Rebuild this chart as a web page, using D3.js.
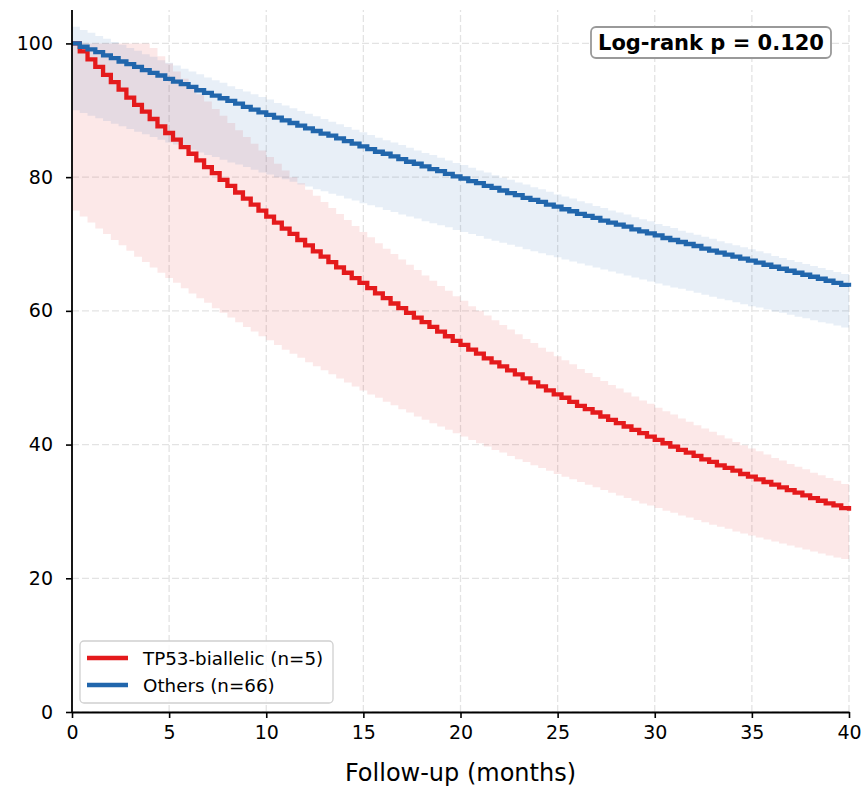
<!DOCTYPE html>
<meta charset="utf-8">
<script src="https://d3js.org/d3.v7.min.js"></script>
<style>
  body { margin: 0; background: #fff; }
  text { font-family: "DejaVu Sans", sans-serif; }
</style>
<div id="chart"></div>
<script>

// follow-up grid, one step every 0.4 months (0 .. 40)
var stepMonths = 0.4;

// TP53-biallelic survival (%)
var redSurv = [
  100.0, 98.8, 97.6, 96.5, 95.3, 94.2, 93.1, 91.9, 90.8, 89.8,
  88.7, 87.6, 86.6, 85.6, 84.5, 83.5, 82.5, 81.5, 80.6, 79.6,
  78.7, 77.7, 76.8, 75.9, 75.0, 74.1, 73.2, 72.3, 71.5, 70.6,
  69.8, 68.9, 68.1, 67.3, 66.5, 65.7, 64.9, 64.2, 63.4, 62.6,
  61.9, 61.1, 60.4, 59.7, 59.0, 58.3, 57.6, 56.9, 56.2, 55.5,
  54.9, 54.2, 53.6, 52.9, 52.3, 51.7, 51.1, 50.5, 49.9, 49.3,
  48.7, 48.1, 47.5, 47.0, 46.4, 45.8, 45.3, 44.8, 44.2, 43.7,
  43.2, 42.7, 42.2, 41.7, 41.2, 40.7, 40.2, 39.7, 39.2, 38.8,
  38.3, 37.8, 37.4, 36.9, 36.5, 36.1, 35.6, 35.2, 34.8, 34.4,
  34.0, 33.6, 33.2, 32.8, 32.4, 32.0, 31.6, 31.2, 30.9, 30.5,
  30.1
];
var redLow = [
  75.0, 74.1, 73.2, 72.3, 71.5, 70.6, 69.8, 69.0, 68.1, 67.3,
  66.5, 65.7, 64.9, 64.2, 63.4, 62.6, 61.9, 61.2, 60.4, 59.7,
  59.0, 58.3, 57.6, 56.9, 56.2, 55.6, 54.9, 54.2, 53.6, 53.0,
  52.3, 51.7, 51.1, 50.5, 49.9, 49.3, 48.7, 48.1, 47.5, 47.0,
  46.4, 45.9, 45.3, 44.8, 44.2, 43.7, 43.2, 42.7, 42.2, 41.7,
  41.2, 40.7, 40.2, 39.7, 39.2, 38.8, 38.3, 37.8, 37.4, 36.9,
  36.5, 36.1, 35.6, 35.2, 34.8, 34.4, 34.0, 33.6, 33.2, 32.8,
  32.4, 32.0, 31.6, 31.2, 30.9, 30.5, 30.1, 29.8, 29.4, 29.1,
  28.7, 28.4, 28.0, 27.7, 27.4, 27.0, 26.7, 26.4, 26.1, 25.8,
  25.5, 25.2, 24.9, 24.6, 24.3, 24.0, 23.7, 23.4, 23.1, 22.9,
  22.6
];
var redHigh = [
  100.0, 100.0, 100.0, 100.0, 100.0, 100.0, 100.0, 100.0, 100.0, 100.0,
  99.3, 98.1, 97.0, 95.8, 94.7, 93.6, 92.4, 91.3, 90.2, 89.2,
  88.1, 87.0, 86.0, 85.0, 84.0, 83.0, 82.0, 81.0, 80.0, 79.1,
  78.1, 77.2, 76.3, 75.4, 74.5, 73.6, 72.7, 71.8, 71.0, 70.1,
  69.3, 68.5, 67.7, 66.9, 66.1, 65.3, 64.5, 63.7, 63.0, 62.2,
  61.5, 60.7, 60.0, 59.3, 58.6, 57.9, 57.2, 56.5, 55.8, 55.2,
  54.5, 53.9, 53.2, 52.6, 52.0, 51.3, 50.7, 50.1, 49.5, 48.9,
  48.4, 47.8, 47.2, 46.6, 46.1, 45.5, 45.0, 44.5, 43.9, 43.4,
  42.9, 42.4, 41.9, 41.4, 40.9, 40.4, 39.9, 39.4, 39.0, 38.5,
  38.0, 37.6, 37.1, 36.7, 36.3, 35.8, 35.4, 35.0, 34.6, 34.1,
  33.7
];

// Others survival (%)
var blueSurv = [
  100.0, 99.5, 99.1, 98.7, 98.2, 97.8, 97.3, 96.9, 96.5, 96.0,
  95.6, 95.2, 94.7, 94.3, 93.9, 93.5, 93.0, 92.6, 92.2, 91.8,
  91.4, 91.0, 90.5, 90.1, 89.7, 89.3, 88.9, 88.5, 88.1, 87.7,
  87.3, 86.9, 86.5, 86.2, 85.8, 85.4, 85.0, 84.6, 84.2, 83.8,
  83.5, 83.1, 82.7, 82.3, 82.0, 81.6, 81.2, 80.9, 80.5, 80.1,
  79.8, 79.4, 79.1, 78.7, 78.4, 78.0, 77.6, 77.3, 76.9, 76.6,
  76.3, 75.9, 75.6, 75.2, 74.9, 74.5, 74.2, 73.9, 73.5, 73.2,
  72.9, 72.6, 72.2, 71.9, 71.6, 71.3, 70.9, 70.6, 70.3, 70.0,
  69.7, 69.3, 69.0, 68.7, 68.4, 68.1, 67.8, 67.5, 67.2, 66.9,
  66.6, 66.3, 66.0, 65.7, 65.4, 65.1, 64.8, 64.5, 64.2, 63.9,
  63.6
];
var blueLow = [
  90.0, 89.6, 89.2, 88.8, 88.4, 88.0, 87.6, 87.2, 86.8, 86.4,
  86.0, 85.6, 85.2, 84.9, 84.5, 84.1, 83.7, 83.3, 83.0, 82.6,
  82.2, 81.9, 81.5, 81.1, 80.7, 80.4, 80.0, 79.7, 79.3, 78.9,
  78.6, 78.2, 77.9, 77.5, 77.2, 76.8, 76.5, 76.1, 75.8, 75.5,
  75.1, 74.8, 74.4, 74.1, 73.8, 73.4, 73.1, 72.8, 72.5, 72.1,
  71.8, 71.5, 71.2, 70.8, 70.5, 70.2, 69.9, 69.6, 69.2, 68.9,
  68.6, 68.3, 68.0, 67.7, 67.4, 67.1, 66.8, 66.5, 66.2, 65.9,
  65.6, 65.3, 65.0, 64.7, 64.4, 64.1, 63.8, 63.5, 63.3, 63.0,
  62.7, 62.4, 62.1, 61.8, 61.6, 61.3, 61.0, 60.7, 60.5, 60.2,
  59.9, 59.7, 59.4, 59.1, 58.9, 58.6, 58.3, 58.1, 57.8, 57.5,
  57.3
];
var blueHigh = [
  102.5, 102.0, 101.6, 101.1, 100.7, 100.2, 99.8, 99.3, 98.9, 98.4,
  98.0, 97.5, 97.1, 96.7, 96.2, 95.8, 95.4, 94.9, 94.5, 94.1,
  93.6, 93.2, 92.8, 92.4, 92.0, 91.6, 91.1, 90.7, 90.3, 89.9,
  89.5, 89.1, 88.7, 88.3, 87.9, 87.5, 87.1, 86.7, 86.3, 85.9,
  85.5, 85.2, 84.8, 84.4, 84.0, 83.6, 83.3, 82.9, 82.5, 82.1,
  81.8, 81.4, 81.0, 80.7, 80.3, 79.9, 79.6, 79.2, 78.9, 78.5,
  78.2, 77.8, 77.4, 77.1, 76.8, 76.4, 76.1, 75.7, 75.4, 75.0,
  74.7, 74.4, 74.0, 73.7, 73.4, 73.0, 72.7, 72.4, 72.0, 71.7,
  71.4, 71.1, 70.8, 70.4, 70.1, 69.8, 69.5, 69.2, 68.9, 68.6,
  68.2, 67.9, 67.6, 67.3, 67.0, 66.7, 66.4, 66.1, 65.8, 65.5,
  65.2
];

var xTicks = [0, 5, 10, 15, 20, 25, 30, 35, 40];
var yTicks = [0, 20, 40, 60, 80, 100];
var seriesNames = ["TP53-biallelic (n=5)", "Others (n=66)"];
var pText = "Log-rank p = 0.120";

var W = 863, H = 786;
var margin = {top: 10, right: 14, bottom: 74, left: 72};

var svg = d3.select("#chart").append("svg")
  .attr("width", W).attr("height", H);

var x = d3.scaleLinear().domain([0, 40]).range([margin.left, W - margin.right]);
var y = d3.scaleLinear().domain([0, 105]).range([H - margin.bottom, margin.top]);

// grid
var grid = svg.append("g");
grid.selectAll(".gx").data(xTicks).enter().append("line")
  .attr("x1", d => x(d)).attr("x2", d => x(d))
  .attr("y1", y(0)).attr("y2", y(105))
  .attr("stroke", "#e3e3e3").attr("stroke-width", 1.3).attr("stroke-dasharray", "7,3");
grid.selectAll(".gy").data(yTicks).enter().append("line")
  .attr("x1", x(0)).attr("x2", x(40))
  .attr("y1", d => y(d)).attr("y2", d => y(d))
  .attr("stroke", "#e3e3e3").attr("stroke-width", 1.3).attr("stroke-dasharray", "7,3");

function rows(surv, lo, hi) {
  return surv.map(function(v, i) { return {t: i * stepMonths, s: v, lo: lo[i], hi: hi[i]}; });
}
var groups = [
  {data: rows(redSurv, redLow, redHigh), color: "#e41a1c"},
  {data: rows(blueSurv, blueLow, blueHigh), color: "#2166ac"}
];

var area = d3.area().curve(d3.curveStepAfter)
  .x(d => x(d.t)).y0(d => y(d.lo)).y1(d => y(d.hi));
var line = d3.line().curve(d3.curveStepAfter)
  .x(d => x(d.t)).y(d => y(d.s));

groups.forEach(function(g) {
  svg.append("path").datum(g.data)
    .attr("d", area)
    .attr("fill", g.color).attr("fill-opacity", 0.1);
});
groups.forEach(function(g) {
  svg.append("path").datum(g.data)
    .attr("d", line)
    .attr("fill", "none")
    .attr("stroke", g.color).attr("stroke-width", 4.3);
});

// axes
var xAxis = svg.append("g")
  .attr("transform", "translate(0," + y(0) + ")")
  .call(d3.axisBottom(x).tickValues(xTicks).tickSize(6).tickSizeOuter(0).tickPadding(8));
var yAxis = svg.append("g")
  .attr("transform", "translate(" + x(0) + ",0)")
  .call(d3.axisLeft(y).tickValues(yTicks).tickSize(6).tickSizeOuter(0).tickPadding(13));
yAxis.select(".domain").attr("d", "M0," + y(0) + "V" + y(105));
[xAxis, yAxis].forEach(function(a) {
  a.select(".domain").attr("stroke", "#000").attr("stroke-width", 1.8);
  a.selectAll(".tick line").attr("stroke", "#000").attr("stroke-width", 1.6);
  a.selectAll(".tick text").style("font-size", "19px").attr("fill", "#000")
    .style("font-family", "DejaVu Sans");
});

svg.append("text")
  .attr("x", (x(0) + x(40)) / 2).attr("y", 781)
  .attr("text-anchor", "middle")
  .style("font-size", "24px")
  .text("Follow-up (months)");

// p-value box
var pBox = svg.append("g");
var pt = pBox.append("text")
  .attr("x", 711).attr("y", 43)
  .attr("text-anchor", "middle").attr("dominant-baseline", "central")
  .style("font-size", "21px").style("font-weight", "bold")
  .text(pText);
var bb = pt.node().getBBox();
pBox.insert("rect", "text")
  .attr("x", bb.x - 7).attr("y", 27)
  .attr("width", bb.width + 14).attr("height", 31)
  .attr("rx", 5)
  .attr("fill", "#fff").attr("stroke", "#999").attr("stroke-width", 1.8);

// legend
var leg = svg.append("g");
leg.append("rect")
  .attr("x", 80).attr("y", 641).attr("width", 253).attr("height", 62)
  .attr("rx", 4)
  .attr("fill", "#fff").attr("fill-opacity", 0.8)
  .attr("stroke", "#d0d0d0").attr("stroke-width", 1.3);
groups.forEach(function(g, i) {
  var yy = 658 + i * 27;
  leg.append("line")
    .attr("x1", 87).attr("x2", 128).attr("y1", yy).attr("y2", yy)
    .attr("stroke", g.color).attr("stroke-width", 4.3);
  leg.append("text")
    .attr("x", 143).attr("y", yy)
    .attr("dominant-baseline", "central")
    .style("font-size", "18.3px")
    .text(seriesNames[i]);
});

</script>
